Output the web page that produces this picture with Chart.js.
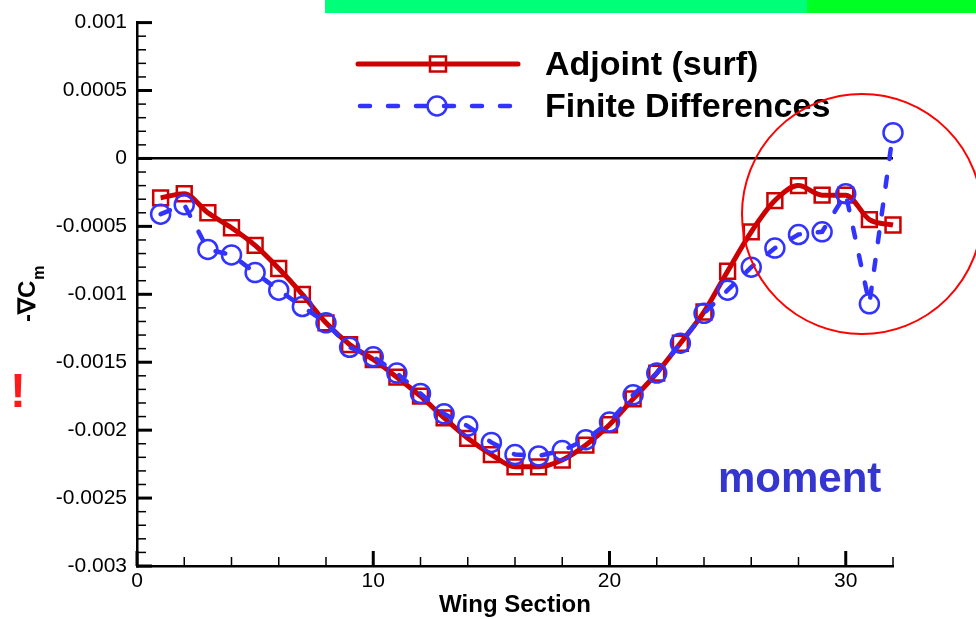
<!DOCTYPE html>
<html>
<head>
<meta charset="utf-8">
<script src="https://cdn.jsdelivr.net/npm/chart.js@4.4.0/dist/chart.umd.min.js"></script>
<style>
    html, body { margin: 0; padding: 0; background: #fff; }
    #wrap { width: 976px; height: 619px; }
</style>
</head>
<body>
<div id="wrap"><canvas id="chart" width="976" height="619"></canvas></div>
<script>
// Datos
const wingSections = [1, 2, 3, 4, 5, 6, 7, 8, 9, 10, 11, 12, 13, 14, 15, 16,
    17, 18, 19, 20, 21, 22, 23, 24, 25, 26, 27, 28, 29, 30, 31, 32];
const adjointSurf = [-0.00029, -0.00026, -0.00040, -0.00051, -0.00064, -0.00081, -0.00100, -0.00121,
    -0.00137, -0.00148, -0.00161, -0.00175, -0.00191, -0.00206, -0.00218, -0.00227,
    -0.00227, -0.00222, -0.00211, -0.00196, -0.00177, -0.00158, -0.00136, -0.00113,
    -0.00083, -0.00054, -0.00031, -0.00020, -0.00027, -0.00027, -0.00045, -0.00049];
const finiteDiff = [-0.00041, -0.00034, -0.00067, -0.00071, -0.00084, -0.00097, -0.00109, -0.00121,
    -0.00139, -0.00146, -0.00158, -0.00173, -0.00188, -0.00197, -0.00209, -0.00218,
    -0.00219, -0.00215, -0.00207, -0.00194, -0.00174, -0.00158, -0.00136, -0.00114,
    -0.00097, -0.00080, -0.00066, -0.00056, -0.00054, -0.00026, -0.00107, 0.00019];
const seriesNames = ['Adjoint (surf)', 'Finite Differences'];
const xTickValues = [0, 10, 20, 30];
const xTickLabels = ['0', '10', '20', '30'];
const yTickValues = [-0.003, -0.0025, -0.002, -0.0015, -0.001, -0.0005, 0, 0.0005, 0.001];
const yTickLabels = ['-0.003', '-0.0025', '-0.002', '-0.0015', '-0.001', '-0.0005', '0', '0.0005', '0.001'];

const FONT = "'Liberation Sans', Arial, Helvetica, sans-serif";
const ROJO = '#cc0000';
const AZUL = '#3333ff';

const toPoints = (ys) => wingSections.map((x, i) => ({ x: x, y: ys[i] }));

// Decoración: barra verde, marcas interiores, leyenda y anotaciones
const decoracion = {
    id: 'decoracion',
    beforeDraw(chart) {
        const ctx = chart.ctx;
        ctx.save();
        ctx.fillStyle = '#fff';
        ctx.fillRect(0, 0, chart.width, chart.height);
        ctx.fillStyle = '#00ff78';
        ctx.fillRect(325, 0, 482, 13);
        ctx.fillStyle = '#00ff22';
        ctx.fillRect(807, 0, 169, 13);
        ctx.restore();
    },
    beforeDatasetsDraw(chart) {
        const { ctx, chartArea: a, scales: { x, y } } = chart;
        ctx.save();
        ctx.strokeStyle = '#000';
        // marcas del eje y (hacia dentro)
        for (let k = 0; k <= 40; k++) {
            const py = y.getPixelForValue(-0.003 + k * 0.0001);
            const major = k % 5 === 0;
            ctx.lineWidth = major ? 3 : 1.5;
            ctx.beginPath();
            ctx.moveTo(a.left, py);
            ctx.lineTo(a.left + (major ? 15 : 9), py);
            ctx.stroke();
        }
        // marcas del eje x
        for (let k = 0; k <= 16; k++) {
            const px = x.getPixelForValue(k * 2);
            const major = k % 5 === 0;
            ctx.lineWidth = major ? 3 : 1.5;
            ctx.beginPath();
            ctx.moveTo(px, a.bottom);
            ctx.lineTo(px, a.bottom - (major ? 15 : 9));
            ctx.stroke();
        }
        ctx.restore();
    },
    afterDraw(chart) {
        const ctx = chart.ctx;
        ctx.save();

        // leyenda
        ctx.lineCap = 'round';
        ctx.strokeStyle = ROJO;
        ctx.lineWidth = 5;
        ctx.beginPath();
        ctx.moveTo(358, 64);
        ctx.lineTo(518, 64);
        ctx.stroke();
        ctx.lineWidth = 2.5;
        ctx.strokeRect(430, 56.5, 16, 15);

        ctx.strokeStyle = AZUL;
        ctx.lineWidth = 4.5;
        ctx.setLineDash([10, 18]);
        ctx.beginPath();
        ctx.moveTo(360, 106);
        ctx.lineTo(512, 106);
        ctx.stroke();
        ctx.setLineDash([]);
        ctx.lineWidth = 2.5;
        ctx.beginPath();
        ctx.arc(437, 106, 9.5, 0, Math.PI * 2);
        ctx.stroke();

        ctx.fillStyle = '#000';
        ctx.font = 'bold 34px ' + FONT;
        ctx.textAlign = 'left';
        ctx.textBaseline = 'alphabetic';
        ctx.fillText(seriesNames[0], 545, 75);
        ctx.fillText(seriesNames[1], 545, 117);

        // título eje x
        ctx.font = 'bold 24px ' + FONT;
        ctx.textAlign = 'center';
        ctx.fillText('Wing Section', 515, 612);

        // título eje y con subíndice
        ctx.save();
        ctx.translate(35, 322);
        ctx.rotate(-Math.PI / 2);
        ctx.textAlign = 'left';
        ctx.font = 'bold 24px ' + FONT;
        const base = '-\u2207C';
        ctx.fillText(base, 0, 0);
        const w = ctx.measureText(base).width;
        ctx.font = 'bold 16px ' + FONT;
        ctx.fillText('m', w + 1, 9);
        ctx.restore();

        // signo de exclamación
        ctx.fillStyle = '#ff1a1a';
        ctx.font = 'bold 48px ' + FONT;
        ctx.textAlign = 'center';
        ctx.fillText('!', 18, 407);

        // etiqueta "moment"
        ctx.fillStyle = '#3535d0';
        ctx.font = 'bold 42px ' + FONT;
        ctx.textAlign = 'left';
        ctx.fillText('moment', 718, 492);

        // círculo rojo
        ctx.strokeStyle = '#ff0000';
        ctx.lineWidth = 2;
        ctx.beginPath();
        ctx.arc(862, 214, 120, 0, Math.PI * 2);
        ctx.stroke();

        ctx.restore();
    }
};

const ctx = document.getElementById('chart');
new Chart(ctx, {
    type: 'line',
    data: {
        datasets: [
            {
                label: seriesNames[1],
                data: toPoints(finiteDiff),
                borderColor: AZUL,
                borderWidth: 4.5,
                borderDash: [10, 18],
                borderCapStyle: 'round',
                tension: 0,
                pointStyle: 'circle',
                pointRadius: 9.5,
                pointBorderWidth: 2.5,
                pointBorderColor: AZUL,
                pointBackgroundColor: 'rgba(0,0,0,0)',
                fill: false,
                clip: false,
                order: 0
            },
            {
                label: seriesNames[0],
                data: toPoints(adjointSurf),
                borderColor: ROJO,
                borderWidth: 5,
                cubicInterpolationMode: 'monotone',
                pointStyle: 'rect',
                pointRadius: 10.5,
                pointBorderWidth: 2.5,
                pointBorderColor: ROJO,
                pointBackgroundColor: 'rgba(0,0,0,0)',
                fill: false,
                clip: false,
                order: 1
            }
        ]
    },
    options: {
        responsive: false,
        animation: false,
        events: [],
        layout: { padding: { top: 20, right: 83, left: 0, bottom: 0 } },
        plugins: { legend: { display: false }, tooltip: { enabled: false } },
        scales: {
            x: {
                type: 'linear',
                min: 0,
                max: 32,
                afterBuildTicks: (s) => { s.ticks = xTickValues.map(v => ({ value: v })); },
                afterFit: (s) => { s.height = 53; },
                ticks: {
                    callback: (v, i) => xTickLabels[i],
                    color: '#000',
                    font: { family: FONT, size: 21 },
                    padding: 3,
                    maxRotation: 0,
                    autoSkip: false
                },
                grid: { display: false, drawTicks: false },
                border: { color: '#000', width: 2.5 }
            },
            y: {
                min: -0.003,
                max: 0.001,
                afterBuildTicks: (s) => { s.ticks = yTickValues.map(v => ({ value: v })); },
                afterFit: (s) => { s.width = 137; },
                ticks: {
                    callback: (v, i) => yTickLabels[i],
                    color: '#000',
                    font: { family: FONT, size: 21 },
                    padding: 10,
                    autoSkip: false
                },
                grid: {
                    drawTicks: false,
                    lineWidth: 2.5,
                    color: (c) => (c.tick && c.tick.value === 0 ? '#000' : 'rgba(0,0,0,0)')
                },
                border: { color: '#000', width: 2.5 }
            }
        }
    },
    plugins: [decoracion]
});
</script>
</body>
</html>
